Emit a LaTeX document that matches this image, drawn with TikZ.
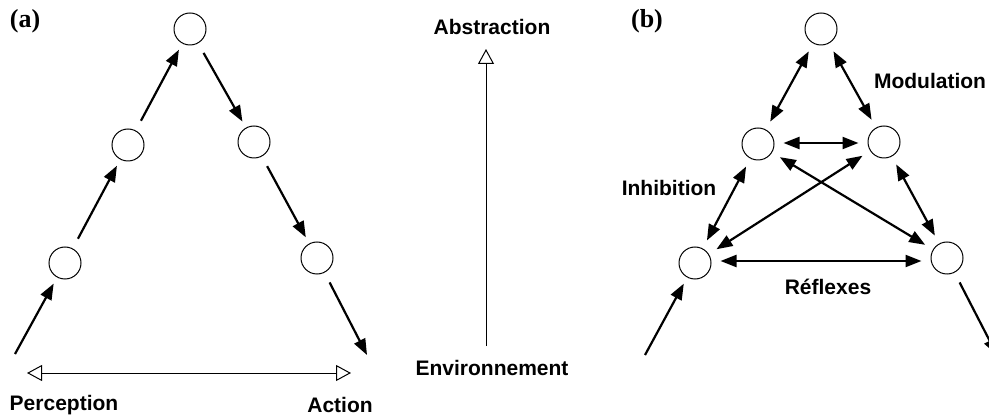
\documentclass[tikz,border=0pt]{standalone}
\usepackage{fontspec}
\setmainfont{Liberation Serif}
\setsansfont{Liberation Sans}
\usetikzlibrary{arrows.meta}
\tikzset{otip/.tip={Triangle[open,length=7.5pt,width=8pt]},
 ftip/.tip={Triangle[length=8pt,width=6pt]}}
\begin{document}
\begin{tikzpicture}[x=0.5pt,y=-0.5pt,
 nd/.style={circle,draw,line width=0.5pt,minimum size=16pt,inner sep=0pt},
 fw/.style={line width=1.1pt,-{ftip},shorten <=5.5pt,shorten >=3.5pt},
 bw/.style={line width=1.1pt,{ftip}-{ftip},shorten <=4.5pt,shorten >=4.5pt},
 ow/.style={line width=0.5pt},
 lbl/.style={font=\sffamily\bfseries\fontsize{10.5}{12}\selectfont,inner sep=0pt},
 tag/.style={font=\rmfamily\bfseries\fontsize{13}{15}\selectfont,inner sep=0pt}]
\useasboundingbox (0,0) rectangle (989,416);
\clip (0,0) rectangle (989,416);
% panel a
\node[tag] (ta) at (25,21) {(a)};
\node[nd] (a0) at (190,29) {};
\node[nd] (a1) at (128,145) {};
\node[nd] (a2) at (254,142) {};
\node[nd] (a3) at (65,263) {};
\node[nd] (a4) at (317,258) {};
\coordinate (ain) at (15,354);
\coordinate (aout) at (367,355);
\draw[fw,shorten <=0pt] (ain) -- (a3);
\draw[fw] (a3) -- (a1);
\draw[fw] (a1) -- (a0);
\draw[fw] (a0) -- (a2);
\draw[fw] (a2) -- (a4);
\draw[fw,shorten >=0pt] (a4) -- (aout);
\coordinate (pl) at (27,373);
\coordinate (pr) at (351,373);
\draw[ow,{otip}-{otip}] (pl) -- (pr);
\node[lbl] (perc) at (64,405) {Perception};
\node[lbl] (act) at (340,405) {Action};
% middle
\coordinate (ebot) at (486,346);
\coordinate (etop) at (486,49);
\draw[ow,-{otip}] (ebot) -- (etop);
\node[lbl] (abs) at (492,27) {Abstraction};
\node[lbl] (env) at (492,368) {Environnement};
% panel b
\node[tag] (tb) at (647,21) {(b)};
\node[nd] (b0) at (821,29) {};
\node[nd] (b1) at (758,144) {};
\node[nd] (b2) at (884,142) {};
\node[nd] (b3) at (695,263) {};
\node[nd] (b4) at (947,258) {};
\coordinate (bin) at (645,355);
\coordinate (bout) at (997,355);
\draw[fw,shorten <=0pt] (bin) -- (b3);
\draw[fw,shorten >=0pt] (b4) -- (bout);
\draw[bw] (b0) -- (b1);
\draw[bw] (b0) -- (b2);
\draw[bw] (b1.east |- 0,143) -- (b2.west |- 0,143);
\draw[bw] (b1) -- (b3);
\draw[bw] (b2) -- (b4);
\draw[bw] (b1) -- (b4);
\draw[bw] (b2) -- (b3);
\draw[bw] (b3.east |- 0,261) -- (b4.west |- 0,261);
\node[lbl] (mod) at (930,81) {Modulation};
\node[lbl] (inh) at (669,188) {Inhibition};
\node[lbl] (ref) at (828,287) {Réflexes};
\end{tikzpicture}
\end{document}
